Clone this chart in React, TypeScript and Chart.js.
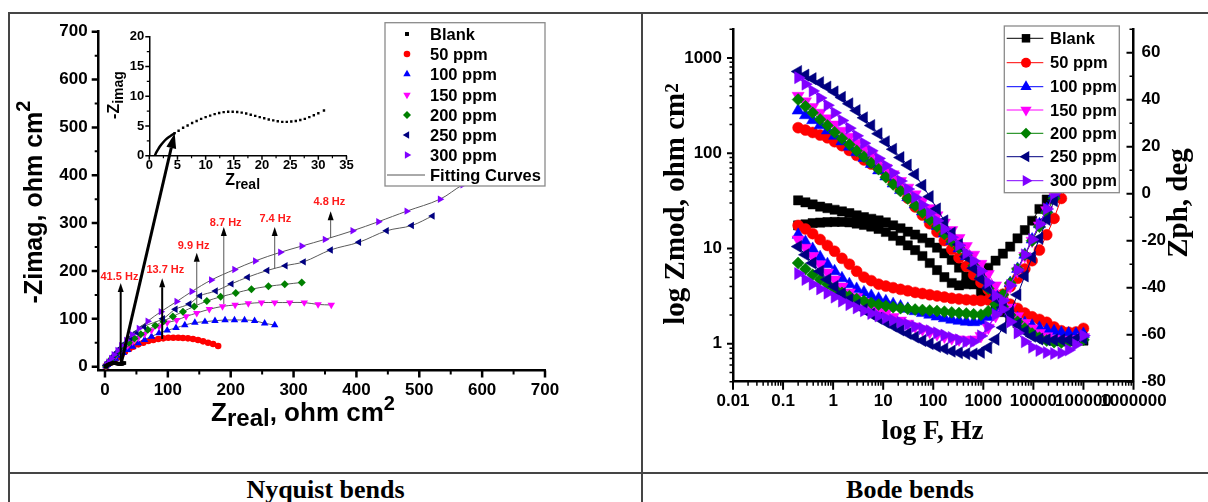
import React, { useEffect, useRef } from 'react';
import { Chart, registerables } from 'chart.js';
import { drawPoint } from 'chart.js/helpers';

Chart.register(...registerables);

const SANS = '"Liberation Sans", Arial, Helvetica, sans-serif';
const SERIF = '"Liberation Serif", "Times New Roman", Times, serif';

// ---------------- series meta ----------------
const seriesNames = ['Blank', '50 ppm', '100 ppm', '150 ppm', '200 ppm', '250 ppm', '300 ppm'];
const seriesColors = ['#000000', '#ff0000', '#0000ff', '#ff00ff', '#008000', '#000080', '#8000ff'];
const markerStyles = ['rect', 'circle', 'triangle', 'triangle', 'rectRot', 'triangle', 'triangle'];
const markerRotations = [0, 0, 0, 180, 0, -90, 90];
const nyqMarkerRadius = [2.4, 3.3, 4.3, 4.3, 4, 4.3, 4.3];
const bodeMarkerRadius = [6.5, 5.5, 7, 7, 6, 7, 7];

// ---------------- Nyquist data (Zreal, -Zimag in ohm cm2) ----------------
const nyqBlankX = [1.0, 1.2, 1.5, 1.9, 2.4, 3.0, 3.7, 4.5, 5.2, 6.0, 6.8, 7.6, 8.4, 9.2, 10.0, 10.8, 11.6, 12.4, 13.2, 14.0, 14.8, 15.6, 16.4, 17.2, 18.0, 18.8, 19.6, 20.4, 21.2, 22.0, 22.8, 23.6, 24.4, 25.2, 26.0, 26.8, 27.6, 28.4, 29.2, 30.0, 31.0];
const nyqBlankY = [0.0, 0.5, 1.0, 1.6, 2.2, 2.8, 3.3, 3.8, 4.2, 4.7, 5.1, 5.5, 5.85, 6.2, 6.5, 6.75, 7.0, 7.2, 7.33, 7.4, 7.4, 7.35, 7.25, 7.1, 6.9, 6.7, 6.5, 6.3, 6.1, 5.95, 5.8, 5.7, 5.7, 5.75, 5.85, 6.0, 6.2, 6.5, 6.8, 7.15, 7.6];
const nyq50X = [1.5, 3, 5.3, 8, 10.6, 13.2, 15.9, 18.5, 21.2, 26.5, 31.8, 38.7, 45, 53, 60.9, 68.9, 76.8, 84.8, 92.7, 100.7, 108.6, 116.6, 124, 132, 140, 148, 156, 164, 172, 180];
const nyq50Y = [1, 3, 5.6, 8, 10.4, 12.8, 15.3, 18, 20.9, 25.8, 31.3, 36.9, 41.8, 46.6, 50.1, 53.6, 55.7, 57.8, 59.2, 60.5, 60.5, 60.5, 59.9, 59.2, 57.8, 55.7, 52.9, 50.1, 47.4, 43.3];
const nyq100X = [1.5, 4, 8, 12, 17, 23, 29, 36, 44, 53, 63, 74, 86, 99, 113, 127, 143, 159, 175, 191, 206, 222, 238, 254, 270];
const nyq100Y = [1, 4, 8, 12, 17, 23, 29, 35, 42, 49, 56, 63, 70, 76, 81, 87, 92, 94, 96, 97.5, 97.5, 97.5, 96, 90.6, 87];
const nyq150X = [1.5, 4, 8, 12, 17, 23, 29, 36, 44, 53, 63, 74, 86, 99, 114, 129, 146, 166, 187, 207, 228, 249, 270, 294, 317, 339, 360];
const nyq150Y = [1.5, 6, 11, 17, 23, 30, 37, 44, 52, 60, 68, 76, 84, 92, 97, 105, 112, 120, 126, 129, 132, 134, 134, 134, 134, 130, 129];
const nyq200X = [1.5, 4, 8, 12, 17, 23, 30, 38, 47, 57, 68, 80, 93, 108, 124, 142, 162, 184, 208, 233, 260, 286, 313];
const nyq200Y = [2, 7, 13, 19, 26, 34, 42, 50, 59, 68, 77, 86, 95, 105, 115, 126, 137, 146, 154, 162, 168, 172, 176];
const nyq250X = [2, 5, 9, 13, 18, 24, 31, 40, 50, 62, 92, 112, 134, 151, 176, 201, 227, 258, 287, 316, 359, 404, 448, 488, 521];
const nyq250Y = [3, 8, 14, 21, 29, 38, 48, 60, 72, 84, 100, 120, 131, 148, 158, 173, 187, 201, 211, 219, 244, 260, 284, 295, 315];
const nyq300X = [2.5, 6, 10, 14, 20, 26, 34, 43, 54, 68, 89, 114, 138, 169, 206, 239, 279, 313, 350, 394, 435, 480, 533, 569, 610];
const nyq300Y = [4, 10, 17, 25, 34, 44, 55, 67, 80, 95, 115, 136, 157, 181, 203, 221, 239, 252, 266, 284, 303, 325, 350, 380, 405];
const nyqX = [nyqBlankX, nyq50X, nyq100X, nyq150X, nyq200X, nyq250X, nyq300X];
const nyqY = [nyqBlankY, nyq50Y, nyq100Y, nyq150Y, nyq200Y, nyq250Y, nyq300Y];

const nyqAxisTicks = [0, 100, 200, 300, 400, 500, 600, 700];
const nyqAxisMinor = [50, 150, 250, 350, 450, 550, 650];
const insetXTicks = [0, 5, 10, 15, 20, 25, 30, 35];
const insetXMinor = [2.5, 7.5, 12.5, 17.5, 22.5, 27.5, 32.5];
const insetYTicks = [0, 5, 10, 15, 20];
const insetYMinor = [2.5, 7.5, 12.5, 17.5];

// frequency annotations (data coordinates of the Nyquist plot)
const freqLabels = ['41.5 Hz', '13.7 Hz', '9.9 Hz', '8.7 Hz', '7.4 Hz', '4.8 Hz'];
const freqArrowX = [25, 91, 146, 189, 270, 359];
const freqArrowBaseY = [8, 58, 128, 131, 205, 269];
const freqArrowTipY = [175, 185, 238, 292, 292, 325];
const freqLabelX = [23, 96, 141, 192, 271, 357];
const freqLabelY = [188, 203, 252, 301, 309, 344];
const bigArrowStart = [25.8, 7];
const bigArrowEnd = [4.5, 3.8];

// ---------------- Bode data ----------------
const bodeFreqHz = [0.2, 0.28, 0.39, 0.55, 0.77, 1.07, 1.5, 2.11, 2.95, 4.13, 5.78, 8.09, 11.3, 15.8, 22.2, 31, 43.5, 60.8, 85.1, 119, 167, 234, 327, 458, 641, 897, 1256, 1758, 2461, 3444, 4820, 6745, 9441, 13213, 18493, 25882, 36224, 50698, 70955, 100000];
const zmodBlank = [32, 30.5, 29, 27.5, 26.5, 25.5, 24.5, 23.5, 22.3, 21.3, 20.5, 19.7, 18.8, 17.5, 16.3, 15, 14, 12.8, 11.5, 10.2, 8.9, 7.6, 6.3, 5.1, 4.2, 3.5, 2.95, 2.5, 2.15, 1.88, 1.65, 1.45, 1.3, 1.2, 1.13, 1.08, 1.06, 1.06, 1.07, 1.08];
const zmod50 = [185, 175, 165, 155, 145, 132, 120, 107, 95, 85, 77, 70, 62.5, 50.6, 41.6, 33.7, 27.3, 22.4, 18.2, 14.9, 12.1, 9.8, 8.0, 6.5, 5.3, 4.4, 3.7, 3.2, 2.9, 2.6, 2.35, 2.1, 1.92, 1.8, 1.68, 1.5, 1.37, 1.32, 1.33, 1.45];
const zmod100 = [280, 250, 222, 196, 173, 152, 133, 117, 102, 89, 77, 66, 57, 48, 41, 34.5, 29, 24.5, 20.5, 17.2, 14.4, 12, 10, 8.3, 6.8, 5.4, 4.2, 3.3, 2.6, 2.15, 1.85, 1.65, 1.55, 1.47, 1.4, 1.35, 1.3, 1.28, 1.27, 1.27];
const zmod150 = [400, 350, 305, 266, 232, 200, 172, 149, 128, 110, 95, 82, 70, 60, 51, 43.5, 37, 31.5, 26.5, 22.3, 18.7, 15.6, 12.9, 10.6, 8.6, 6.9, 5.4, 4.1, 3.1, 2.4, 1.95, 1.65, 1.45, 1.3, 1.2, 1.13, 1.1, 1.1, 1.12, 1.18];
const zmod200 = [365, 310, 265, 226, 195, 166, 143, 123, 106, 92, 79, 68, 56, 47, 40, 33.5, 28.1, 23.9, 20, 17, 14.2, 11.9, 10.1, 8.5, 6.6, 5.0, 3.8, 3.0, 2.45, 2.0, 1.7, 1.45, 1.28, 1.16, 1.08, 1.04, 1.03, 1.03, 1.05, 1.1];
const zmod250 = [720, 660, 605, 550, 495, 440, 385, 330, 280, 235, 195, 160, 132, 110, 90, 75, 60, 46, 35, 26, 19.5, 14.5, 11, 8.2, 6.2, 4.8, 3.8, 3.0, 2.4, 1.95, 1.6, 1.35, 1.2, 1.12, 1.1, 1.1, 1.1, 1.1, 1.12, 1.14];
const zmod300 = [620, 530, 450, 380, 318, 265, 220, 183, 152, 127, 106, 88, 74, 62, 51, 42, 34.5, 28.6, 23.5, 19.5, 16, 13.1, 10.8, 8.9, 7.4, 5.8, 4.4, 3.2, 2.3, 1.7, 1.3, 1.05, 0.92, 0.85, 0.81, 0.79, 0.8, 0.86, 0.98, 1.22];
const phaseBlank = [-13.5, -13, -12.5, -12.3, -12.1, -12, -12, -12.2, -12.7, -13.3, -14, -15, -16.3, -18, -20, -22, -24, -26.5, -29.5, -32.5, -35.5, -38, -39, -38.5, -37, -34.5, -31.5, -28.5, -25.5, -22.5, -19, -15.5, -11.5, -6.5, -2.5, 2, 6.5, 11, 15.5, 20];
const phase50 = [-13.5, -15, -17, -19.5, -22, -24.5, -27.5, -30, -33, -35.5, -37, -38.5, -39.3, -40, -40.7, -41.3, -42, -42.5, -43, -43.5, -44, -44.5, -44.8, -45.1, -45.3, -45.5, -45.2, -44.5, -42.8, -39.5, -36, -32, -28.5, -24, -17.5, -10.5, -2, 5, 12, 20];
const phase100 = [-17.5, -20.5, -23.5, -27, -30, -33, -36, -38.5, -40.5, -42, -43.5, -44.7, -45.8, -47, -48, -49, -50, -50.8, -51.5, -52.3, -53, -53.6, -54.1, -54.5, -54.7, -54.3, -52.5, -49, -44, -38, -32, -26, -19.5, -13, -6.5, 0, 6, 12, 18, 24];
const phase150 = [-19.5, -23, -26.5, -30, -33.5, -36.5, -39.5, -42, -44, -46, -47.8, -49.5, -51, -52.5, -54, -55.3, -56.5, -57.7, -58.8, -59.8, -60.8, -61.5, -62, -62.3, -62, -60.5, -57, -52, -46, -39.5, -33, -26.5, -20, -13.5, -7, -0.5, 6, 12, 18, 24];
const phase200 = [-29.5, -32, -34.5, -36.5, -38.5, -40.5, -42.2, -43.6, -44.8, -45.7, -46.5, -47.2, -47.8, -48.3, -48.7, -49, -49.3, -49.5, -49.7, -49.9, -50.2, -50.5, -50.8, -51, -51.3, -51.5, -50, -47, -43, -38, -32, -26, -20, -14, -8, -2, 4, 10, 16, 22];
const phase250 = [-22.5, -26, -29.5, -33, -36.5, -39.5, -42.5, -45, -47.3, -49.3, -51.2, -53, -54.7, -56.3, -58, -59.5, -61, -62.5, -63.8, -65, -66, -67, -67.7, -68.1, -68.2, -67.5, -65.5, -62, -57, -50.5, -43, -35, -27, -19, -11, -3, 5, 13, 20, 27];
const phase300 = [-34, -36.5, -38.5, -40.5, -42.3, -44, -45.7, -47.2, -48.6, -49.8, -51, -52, -52.9, -53.8, -54.7, -55.6, -56.5, -57.4, -58.3, -59.2, -60.2, -61.2, -62.2, -63, -63, -60.5, -56.5, -51.5, -45.5, -39, -32.5, -26, -19.5, -13, -6.5, 0, 6.5, 13, 19, 25];
const bodeZmod = [zmodBlank, zmod50, zmod100, zmod150, zmod200, zmod250, zmod300];
const bodePhase = [phaseBlank, phase50, phase100, phase150, phase200, phase250, phase300];

const bodeFreqTicks = [0.01, 0.1, 1, 10, 100, 1000, 10000, 100000, 1000000];
const bodeFreqTickLabels = ['0.01', '0.1', '1', '10', '100', '1000', '10000', '100000', '1000000'];
const bodeZTicks = [1, 10, 100, 1000];
const bodeZTickLabels = ['1', '10', '100', '1000'];
const bodePhTicks = [-80, -60, -40, -20, 0, 20, 40, 60];
const bodePhMinor = [-70, -50, -30, -10, 10, 30, 50, 70];

// ---------------- helpers ----------------
function zip(xs: number[], ys: number[]) {
  return xs.map((x, i) => ({ x, y: ys[i] }));
}

function logMinors(lo: number, hi: number) {
  const out: number[] = [];
  for (let e = Math.floor(Math.log10(lo)) - 1; e <= Math.ceil(Math.log10(hi)); e++) {
    for (let k = 2; k <= 9; k++) {
      const v = k * Math.pow(10, e);
      if (v >= lo * 0.999 && v <= hi * 1.001) out.push(v);
    }
  }
  return out;
}

function tickMarksX(ctx: any, sc: any, vals: number[], y: number, len: number, lw: number) {
  ctx.save();
  ctx.strokeStyle = '#000';
  ctx.lineWidth = lw;
  ctx.beginPath();
  for (const v of vals) {
    const x = sc.getPixelForValue(v);
    ctx.moveTo(x, y);
    ctx.lineTo(x, y + len);
  }
  ctx.stroke();
  ctx.restore();
}

function tickMarksY(ctx: any, sc: any, vals: number[], x: number, len: number, lw: number) {
  ctx.save();
  ctx.strokeStyle = '#000';
  ctx.lineWidth = lw;
  ctx.beginPath();
  for (const v of vals) {
    const y = sc.getPixelForValue(v);
    ctx.moveTo(x, y);
    ctx.lineTo(x + len, y);
  }
  ctx.stroke();
  ctx.restore();
}

type Seg = [string, number, number];
function richText(ctx: any, segs: Seg[], family: string, cx: number, cy: number, rot: number) {
  ctx.save();
  ctx.translate(cx, cy);
  ctx.rotate(rot);
  ctx.fillStyle = '#000';
  ctx.textBaseline = 'alphabetic';
  ctx.textAlign = 'left';
  const ws = segs.map(([t, s]) => {
    ctx.font = `bold ${s}px ${family}`;
    return ctx.measureText(t).width;
  });
  let x = -ws.reduce((a, b) => a + b, 0) / 2;
  segs.forEach(([t, s, dy], i) => {
    ctx.font = `bold ${s}px ${family}`;
    ctx.fillText(t, x, dy);
    x += ws[i];
  });
  ctx.restore();
}

function arrow(ctx: any, x0: number, y0: number, x1: number, y1: number, lw: number, color: string, headLen: number, headW: number) {
  const ang = Math.atan2(y1 - y0, x1 - x0);
  const bx = x1 - Math.cos(ang) * headLen;
  const by = y1 - Math.sin(ang) * headLen;
  ctx.save();
  ctx.strokeStyle = color;
  ctx.lineWidth = lw;
  ctx.beginPath();
  ctx.moveTo(x0, y0);
  ctx.lineTo(bx, by);
  ctx.stroke();
  ctx.fillStyle = '#000';
  ctx.beginPath();
  ctx.moveTo(x1, y1);
  ctx.lineTo(bx + (Math.sin(ang) * headW) / 2, by - (Math.cos(ang) * headW) / 2);
  ctx.lineTo(bx - (Math.sin(ang) * headW) / 2, by + (Math.cos(ang) * headW) / 2);
  ctx.closePath();
  ctx.fill();
  ctx.restore();
}

function marker(ctx: any, i: number, x: number, y: number, r: number) {
  ctx.save();
  ctx.fillStyle = seriesColors[i];
  ctx.strokeStyle = seriesColors[i];
  drawPoint(ctx, { pointStyle: markerStyles[i] as any, rotation: markerRotations[i], radius: r, borderWidth: 0 } as any, x, y);
  ctx.restore();
}

function legendBox(ctx: any, x0: number, y0: number, x1: number, y1: number) {
  ctx.save();
  ctx.fillStyle = '#fff';
  ctx.fillRect(x0, y0, x1 - x0, y1 - y0);
  ctx.strokeStyle = '#8a8a8a';
  ctx.lineWidth = 1.3;
  ctx.strokeRect(x0, y0, x1 - x0, y1 - y0);
  ctx.restore();
}

const tickFont = (size: number) => ({ family: SANS, size, weight: 'bold' as const });

// ---------------- Nyquist main chart ----------------
const nyqDeco = {
  id: 'nyqDeco',
  afterDraw(chart: any) {
    const { ctx, chartArea: a, scales } = chart;
    const sx = scales.x;
    const sy = scales.y;
    tickMarksX(ctx, sx, nyqAxisTicks, a.bottom, 7, 2.5);
    tickMarksX(ctx, sx, nyqAxisMinor, a.bottom, 4, 2);
    tickMarksY(ctx, sy, nyqAxisTicks, a.left, -7, 2.5);
    tickMarksY(ctx, sy, nyqAxisMinor, a.left, -4, 2);

    richText(ctx, [['-Zimag, ohm cm', 25, 0], ['2', 20, -12]], SANS, 34, 194, -Math.PI / 2);
    richText(ctx, [['Z', 26, 0], ['real', 24, 5], [', ohm cm', 26, 0], ['2', 20, -11]], SANS, 295, 413, 0);

    // frequency annotations
    freqLabels.forEach((lab, i) => {
      const x = sx.getPixelForValue(freqArrowX[i]);
      const y0 = sy.getPixelForValue(freqArrowBaseY[i]);
      const y1 = sy.getPixelForValue(freqArrowTipY[i]);
      const thick = i < 2;
      arrow(ctx, x, y0, x, y1, thick ? 2 : 1, thick ? '#000' : '#555', 9, 6);
      ctx.save();
      ctx.fillStyle = '#ff1a1a';
      ctx.font = `bold 11px ${SANS}`;
      ctx.textAlign = 'center';
      ctx.textBaseline = 'middle';
      ctx.fillText(lab, sx.getPixelForValue(freqLabelX[i]), sy.getPixelForValue(freqLabelY[i]));
      ctx.restore();
    });

    // legend
    legendBox(ctx, 377, 14.7, 537, 178);
    const rows = [26, 46, 66, 87, 107, 127, 147, 167];
    ctx.save();
    ctx.font = `bold 16.5px ${SANS}`;
    ctx.textBaseline = 'middle';
    ctx.textAlign = 'left';
    ctx.fillStyle = '#000';
    seriesNames.forEach((n, i) => {
      marker(ctx, i, 399, rows[i], i === 0 ? 2.8 : nyqMarkerRadius[i]);
      ctx.fillStyle = '#000';
      ctx.fillText(n, 422, rows[i] + 1);
    });
    ctx.strokeStyle = '#555';
    ctx.lineWidth = 1;
    ctx.beginPath();
    ctx.moveTo(379, rows[7]);
    ctx.lineTo(417, rows[7]);
    ctx.stroke();
    ctx.fillText('Fitting Curves', 422, rows[7] + 1);
    ctx.restore();
  },
};

function nyquistConfig(): any {
  const datasets = seriesNames.map((name, i) => ({
    label: name,
    data: zip(nyqX[i], nyqY[i]),
    showLine: i > 0,
    borderColor: '#5a5a5a',
    borderWidth: 1,
    tension: 0.35,
    pointStyle: markerStyles[i],
    pointRotation: markerRotations[i],
    pointRadius: nyqMarkerRadius[i],
    pointBackgroundColor: seriesColors[i],
    pointBorderColor: seriesColors[i],
    pointBorderWidth: 0,
    order: i === 0 ? -100 : -i,
  }));
  return {
    type: 'scatter',
    data: { datasets },
    options: {
      animation: false,
      responsive: false,
      devicePixelRatio: 1,
      events: [],
      layout: { padding: { left: 40.7, right: 95, top: 23.7, bottom: 63.5 } },
      plugins: { legend: { display: false }, tooltip: { enabled: false } },
      scales: {
        x: {
          type: 'linear',
          min: -10,
          max: 700,
          afterBuildTicks: (s: any) => { s.ticks = nyqAxisTicks.map((v) => ({ value: v })); },
          afterFit: (s: any) => { s.height = 40; },
          grid: { display: false, drawTicks: false },
          border: { display: true, color: '#000', width: 2.5 },
          ticks: { color: '#000', font: tickFont(17), padding: 10, maxRotation: 0, autoSkip: false },
        },
        y: {
          type: 'linear',
          min: -8,
          max: 700,
          afterBuildTicks: (s: any) => { s.ticks = nyqAxisTicks.map((v) => ({ value: v })); },
          afterFit: (s: any) => { s.width = 50; },
          grid: { display: false, drawTicks: false },
          border: { display: true, color: '#000', width: 2.5 },
          ticks: { color: '#000', font: tickFont(17), padding: 11, autoSkip: false },
        },
      },
    },
    plugins: [nyqDeco],
  };
}

// ---------------- Nyquist inset ----------------
function insetConfig(main: any): any {
  const deco = {
    id: 'insetDeco',
    afterDraw(chart: any) {
      const { ctx, chartArea: a, scales } = chart;
      tickMarksX(ctx, scales.x, insetXTicks, a.bottom, 4, 1.5);
      tickMarksX(ctx, scales.x, insetXMinor, a.bottom, 2.5, 1.2);
      tickMarksY(ctx, scales.y, insetYTicks, a.left, -4, 1.5);
      tickMarksY(ctx, scales.y, insetYMinor, a.left, -2.5, 1.2);
      richText(ctx, [['-Z', 16, 0], ['imag', 14, 4]], SANS, 110.5, 87, -Math.PI / 2);
      richText(ctx, [['Z', 16, 0], ['real', 14, 4]], SANS, 234.7, 176.5, 0);
      const x0 = main.scales.x.getPixelForValue(bigArrowStart[0]);
      const y0 = main.scales.y.getPixelForValue(bigArrowStart[1]);
      const x1 = scales.x.getPixelForValue(bigArrowEnd[0]);
      const y1 = scales.y.getPixelForValue(bigArrowEnd[1]);
      arrow(ctx, x0, y0, x1, y1, 3, '#000', 15, 10);
    },
  };
  const arcN = 8;
  return {
    type: 'scatter',
    data: {
      datasets: [
        {
          data: zip(nyqBlankX.slice(0, arcN), nyqBlankY.slice(0, arcN)),
          showLine: true,
          borderColor: '#000',
          borderWidth: 2.5,
          tension: 0.4,
          pointRadius: 0,
        },
        {
          data: zip(nyqBlankX.slice(arcN - 1), nyqBlankY.slice(arcN - 1)),
          showLine: false,
          pointStyle: 'rect',
          pointRadius: 1.7,
          pointBackgroundColor: '#000',
          pointBorderColor: '#000',
          pointBorderWidth: 0,
        },
      ],
    },
    options: {
      animation: false,
      responsive: false,
      devicePixelRatio: 1,
      events: [],
      layout: { padding: { left: 111.3, right: 293.5, top: 28.7, bottom: 298.2 } },
      plugins: { legend: { display: false }, tooltip: { enabled: false } },
      scales: {
        x: {
          type: 'linear',
          min: 0,
          max: 35,
          afterBuildTicks: (s: any) => { s.ticks = insetXTicks.map((v) => ({ value: v })); },
          afterFit: (s: any) => { s.height = 20; },
          grid: { display: false, drawTicks: false },
          border: { display: true, color: '#000', width: 1.5 },
          ticks: { color: '#000', font: tickFont(13), padding: 2, maxRotation: 0, autoSkip: false },
        },
        y: {
          type: 'linear',
          min: 0,
          max: 20,
          afterBuildTicks: (s: any) => { s.ticks = insetYTicks.map((v) => ({ value: v })); },
          afterFit: (s: any) => { s.width = 30; },
          grid: { display: false, drawTicks: false },
          border: { display: true, color: '#000', width: 1.5 },
          ticks: { color: '#000', font: tickFont(13), padding: 5, autoSkip: false },
        },
      },
    },
    plugins: [deco],
  };
}

// ---------------- Bode chart ----------------
const bodeDeco = {
  id: 'bodeDeco',
  afterDraw(chart: any) {
    const { ctx, chartArea: a, scales } = chart;
    const sx = scales.x;
    const sy = scales.y;
    const sp = scales.y2;
    tickMarksX(ctx, sx, bodeFreqTicks, a.bottom, 8, 2);
    tickMarksX(ctx, sx, logMinors(0.01, 1000000), a.bottom, 4, 1.5);
    tickMarksY(ctx, sy, bodeZTicks, a.left, -6, 2);
    tickMarksY(ctx, sy, logMinors(0.4, 2000), a.left, -3.5, 1.5);
    tickMarksY(ctx, sp, bodePhTicks, a.right, -7, 2);
    tickMarksY(ctx, sp, bodePhMinor, a.right, -4, 1.5);

    richText(ctx, [['log Zmod, ohm cm', 29, 0], ['2', 19, -6]], SERIF, 41, 196, -Math.PI / 2);
    richText(ctx, [['log F, Hz', 27, 0]], SERIF, 289.5, 431, 0);
    richText(ctx, [['Zph, deg', 29, 0]], SERIF, 544, 195, -Math.PI / 2);

    legendBox(ctx, 361.3, 18, 476.3, 184.7);
    const rows = [30.3, 54.7, 78.7, 102, 125.3, 148.7, 172.7];
    ctx.save();
    ctx.font = `bold 16.5px ${SANS}`;
    ctx.textBaseline = 'middle';
    ctx.textAlign = 'left';
    seriesNames.forEach((n, i) => {
      ctx.strokeStyle = seriesColors[i];
      ctx.lineWidth = 1;
      ctx.beginPath();
      ctx.moveTo(363.7, rows[i]);
      ctx.lineTo(400.3, rows[i]);
      ctx.stroke();
      marker(ctx, i, 383, rows[i], bodeMarkerRadius[i] - 0.5);
      ctx.fillStyle = '#000';
      ctx.fillText(n, 407, rows[i] + 1);
    });
    ctx.restore();
  },
};

function bodeConfig(): any {
  const datasets: any[] = [];
  seriesNames.forEach((name, i) => {
    const base = {
      showLine: true,
      borderColor: seriesColors[i],
      borderWidth: 1,
      tension: 0,
      pointStyle: markerStyles[i],
      pointRotation: markerRotations[i],
      pointRadius: bodeMarkerRadius[i],
      pointBackgroundColor: seriesColors[i],
      pointBorderColor: seriesColors[i],
      pointBorderWidth: 0.5,
      order: -i,
    };
    datasets.push({ ...base, label: name + ' |Z|', data: zip(bodeFreqHz, bodeZmod[i]), yAxisID: 'y' });
    datasets.push({ ...base, label: name + ' phase', data: zip(bodeFreqHz, bodePhase[i]), yAxisID: 'y2' });
  });
  return {
    type: 'scatter',
    data: { datasets },
    options: {
      animation: false,
      responsive: false,
      devicePixelRatio: 1,
      events: [],
      layout: { padding: { left: 35, right: 19.5, top: 16, bottom: 52.3 } },
      plugins: { legend: { display: false }, tooltip: { enabled: false } },
      scales: {
        x: {
          type: 'logarithmic',
          position: 'bottom',
          min: 0.01,
          max: 1000000,
          afterBuildTicks: (s: any) => { s.ticks = bodeFreqTicks.map((v) => ({ value: v })); },
          afterFit: (s: any) => { s.height = 40; },
          grid: { display: false, drawTicks: false },
          border: { display: true, color: '#000', width: 2.5 },
          ticks: {
            color: '#000', font: tickFont(17), padding: 9, maxRotation: 0, minRotation: 0, autoSkip: false,
            callback: (_v: any, i: number) => bodeFreqTickLabels[i],
          },
        },
        y: {
          type: 'logarithmic',
          position: 'left',
          min: 0.4,
          max: 2000,
          afterBuildTicks: (s: any) => { s.ticks = bodeZTicks.map((v) => ({ value: v })); },
          afterFit: (s: any) => { s.width = 55; },
          grid: { display: false, drawTicks: false },
          border: { display: true, color: '#000', width: 2.5 },
          ticks: {
            color: '#000', font: tickFont(17), padding: 11, autoSkip: false,
            callback: (_v: any, i: number) => bodeZTickLabels[i],
          },
        },
        y2: {
          type: 'linear',
          position: 'right',
          min: -80,
          max: 70,
          afterBuildTicks: (s: any) => { s.ticks = bodePhTicks.map((v) => ({ value: v })); },
          afterFit: (s: any) => { s.width = 55; },
          grid: { display: false, drawTicks: false },
          border: { display: true, color: '#000', width: 2.5 },
          ticks: { color: '#000', font: tickFont(17), padding: 8, autoSkip: false },
        },
      },
    },
    plugins: [bodeDeco],
  };
}

// ---------------- component ----------------
export default function App() {
  const nyqRef = useRef<HTMLCanvasElement>(null);
  const insetRef = useRef<HTMLCanvasElement>(null);
  const bodeRef = useRef<HTMLCanvasElement>(null);

  useEffect(() => {
    const main = new Chart(nyqRef.current as HTMLCanvasElement, nyquistConfig());
    const inset = new Chart(insetRef.current as HTMLCanvasElement, insetConfig(main));
    const bode = new Chart(bodeRef.current as HTMLCanvasElement, bodeConfig());
    return () => {
      inset.destroy();
      main.destroy();
      bode.destroy();
    };
  }, []);

  const line = (l: number, t: number, w: number, h: number) => (
    <div style={{ position: 'absolute', left: l, top: t, width: w, height: h, background: '#454545' }} />
  );
  const caption = (text: string, cx: number) => (
    <div
      style={{
        position: 'absolute', left: cx - 200, width: 400, top: 477, height: 30, textAlign: 'center',
        fontFamily: SERIF, fontWeight: 'bold', fontSize: 26, lineHeight: '26px', color: '#000', whiteSpace: 'nowrap',
      }}
    >
      {text}
    </div>
  );

  return (
    <div style={{ position: 'fixed', left: 0, top: 0, width: 1208, height: 502, overflow: 'hidden', background: '#fff' }}>
      <canvas ref={nyqRef} width={632} height={466} style={{ position: 'absolute', left: 8, top: 8, width: 632, height: 466 }} />
      <canvas ref={insetRef} width={632} height={466} style={{ position: 'absolute', left: 8, top: 8, width: 632, height: 466 }} />
      <canvas ref={bodeRef} width={565} height={466} style={{ position: 'absolute', left: 643, top: 8, width: 565, height: 466 }} />
      {line(8, 12, 1200, 2)}
      {line(8, 12, 2, 490)}
      {line(641, 12, 2, 490)}
      {line(8, 472, 1200, 2)}
      {caption('Nyquist bends', 325.5)}
      {caption('Bode bends', 910)}
    </div>
  );
}
